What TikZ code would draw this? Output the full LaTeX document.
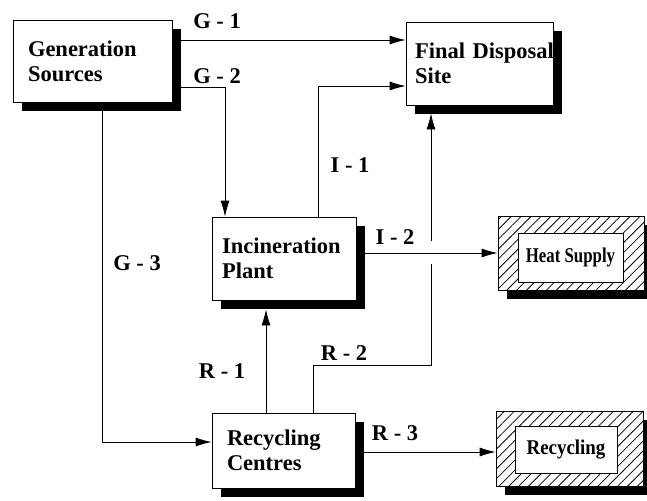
\documentclass[tikz,border=0pt]{standalone}
\usepackage{fontspec}
\setmainfont{Liberation Serif}
\usepackage{graphicx}
\usetikzlibrary{shadows,patterns.meta,arrows.meta}
\begin{document}
\begin{tikzpicture}[x=1pt,y=-1pt,
  every node/.style={font=\bfseries\fontsize{22.5}{25}\selectfont},
  box/.style={draw, line width=0.8pt, fill=white,
    drop shadow={shadow xshift=9pt,shadow yshift=-9pt,fill=black,opacity=1},
    align=left, inner ysep=0pt},
  hatch/.style={draw, line width=0.8pt, fill=white, inner sep=0pt,
    drop shadow={shadow xshift=9pt,shadow yshift=-9pt,fill=black,opacity=1},
    postaction={pattern={Lines[angle=45,distance=7pt,line width=0.8pt]}}},
  inbox/.style={draw, line width=0.8pt, fill=white, inner sep=0pt,
    font=\bfseries\fontsize{21}{24}\selectfont},
  lab/.style={inner sep=1pt},
  arr/.style={draw, line width=0.8pt, -{Latex[length=16pt,width=9pt]}},
  ln/.style={draw, line width=0.8pt}
]
\useasboundingbox (0,0) rectangle (647,500);

% boxes
\node[box, inner xsep=15pt, text width=129pt, minimum height=82pt] (gen) at (92.5,61) {Generation\\Sources};
\node[box, inner xsep=9pt, text width=129pt, minimum height=83pt] (fds) at (479.5,63.5) {\mbox{Final Disposal}\\Site};
\node[box, inner xsep=10pt, text width=124pt, minimum height=83pt] (inc) at (284,258.5) {Incineration\\Plant};
\node[box, inner xsep=15pt, text width=113pt, minimum height=75pt] (rc) at (283.5,450.5) {Recycling\\Centres};

\node[hatch, minimum width=146pt, minimum height=74pt] (heat) at (571,253) {};
\node[inbox, minimum width=105pt, minimum height=49pt] (heatin) at (570.5,257.5) {\scalebox{0.8}[1]{Heat Supply}};
\node[hatch, minimum width=147pt, minimum height=75pt] (rec) at (569.5,448.5) {};
\node[inbox, minimum width=102pt, minimum height=47pt] (recin) at (566,449.5) {\scalebox{0.9}[1]{Recycling}};

% helper coordinates
\coordinate (g2c) at (225,87);
\coordinate (g3c) at (102,442);
\coordinate (i1c) at (318,86);
\coordinate (r2a) at (313,365);
\coordinate (r2b) at (431,365);
\coordinate (fdsS) at ([yshift=-8pt]fds.south);
\coordinate (incS) at ([yshift=-9pt]inc.south);
\coordinate (r1x) at (266,0);
\coordinate (r3y) at (0,452);
\coordinate (g1y) at (0,40);

% connectors
\draw[arr] (gen.east |- g1y) -- (fds.west |- g1y);
\draw[arr] (gen.east |- g2c) -- (g2c) -- (inc.north -| g2c);
\draw[arr] (gen.south -| g3c) -- (g3c) -- (rc.west |- g3c);
\draw[arr] (inc.north -| i1c) -- (i1c) -- (fds.west |- i1c);
\draw[arr] (rc.north -| r2a) -- (r2a) -- (r2b) -- (r2b |- fdsS);
\fill[white] (427,241) rectangle (435,264);
\draw[arr] (inc.east |- heat.west) -- (heat.west);
\draw[arr] (rc.north -| r1x) -- (incS -| r1x);
\draw[arr] (rc.east |- r3y) -- (rec.west |- r3y);

% labels
\node[lab] (lg1) at (217,21) {G - 1};
\node[lab] (lg2) at (217,76) {G - 2};
\node[lab] (lg3) at (137,263) {G - 3};
\node[lab] (li1) at (350,165) {I - 1};
\node[lab] (li2) at (395,237) {I - 2};
\node[lab] (lr1) at (222,371) {R - 1};
\node[lab] (lr2) at (344,353) {R - 2};
\node[lab] (lr3) at (395,433) {R - 3};
\end{tikzpicture}
\end{document}
